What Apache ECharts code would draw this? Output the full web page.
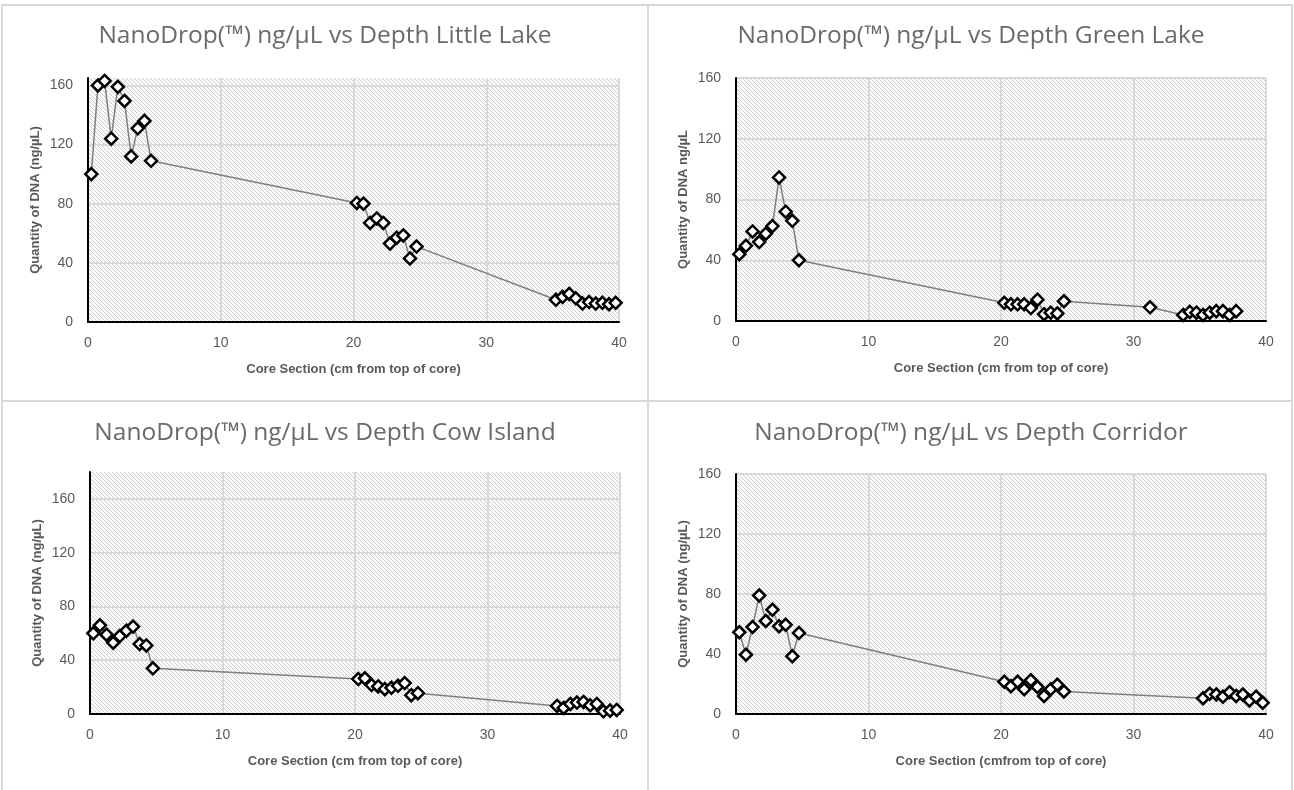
<!DOCTYPE html>
<html>
<head>
<meta charset="utf-8">
<script src="https://cdn.jsdelivr.net/npm/echarts@6/dist/echarts.min.js"></script>
<style>
  html, body { margin: 0; padding: 0; background: #ffffff; }
  #chart { width: 1294px; height: 790px; }
</style>
</head>
<body>
<div id="chart"></div>
<script>
// Core depth (cm from top of core) and DNA quantity (ng/µL) per site
const littleLakeDepth = [0.25, 0.75, 1.25, 1.75, 2.25, 2.75, 3.25, 3.75, 4.25, 4.75,
  20.25, 20.75, 21.25, 21.75, 22.25, 22.75, 23.25, 23.75, 24.25, 24.75,
  35.25, 35.75, 36.25, 36.75, 37.25, 37.75, 38.25, 38.75, 39.25, 39.75];
const littleLakeDNA = [100, 160, 163, 124, 159, 149.5, 112, 131, 136, 109,
  80.5, 80, 67, 70, 67, 53, 57, 58.5, 43, 51,
  15, 17, 19, 16, 12.5, 13.5, 12.5, 13, 12, 13];

const greenLakeDepth = [0.25, 0.75, 1.25, 1.75, 2.25, 2.75, 3.25, 3.75, 4.25, 4.75,
  20.25, 20.75, 21.25, 21.75, 22.25, 22.75, 23.25, 23.75, 24.25, 24.75,
  31.25,
  33.75, 34.25, 34.75, 35.25, 35.75, 36.25, 36.75, 37.25, 37.75];
const greenLakeDNA = [44, 49.5, 59, 52, 57.5, 62.5, 94.5, 72, 66, 40,
  12, 11, 11, 11, 8.5, 14, 4.5, 5.5, 5, 13,
  9,
  4, 6, 5.5, 4, 5.5, 6.5, 6.5, 4, 6.5];

const cowIslandDepth = [0.25, 0.75, 1.25, 1.75, 2.25, 2.75, 3.25, 3.75, 4.25, 4.75,
  20.25, 20.75, 21.25, 21.75, 22.25, 22.75, 23.25, 23.75, 24.25, 24.75,
  35.25, 35.75, 36.25, 36.75, 37.25, 37.75, 38.25, 38.75, 39.25, 39.75];
const cowIslandDNA = [60, 66, 59, 53, 58, 62, 65, 52, 51, 34,
  26, 26.5, 21.5, 20.5, 18.5, 19.5, 21, 23, 14, 15.5,
  6, 4.5, 7.5, 8.5, 9, 6.5, 7.5, 2, 2.5, 3];

const corridorDepth = [0.25, 0.75, 1.25, 1.75, 2.25, 2.75, 3.25, 3.75, 4.25, 4.75,
  20.25, 20.75, 21.25, 21.75, 22.25, 22.75, 23.25, 23.75, 24.25, 24.75,
  35.25, 35.75, 36.25, 36.75, 37.25, 37.75, 38.25, 38.75, 39.25, 39.75];
const corridorDNA = [54.5, 39.5, 58, 79, 62, 69.5, 58.5, 59.5, 38.5, 54,
  21.5, 18.5, 21.5, 16.5, 22.5, 18, 12, 16.5, 19.5, 15,
  10.5, 13.5, 13, 11.5, 14.5, 12, 13, 9, 11.5, 7.5];

const chartTitles = [
  'NanoDrop(™) ng/µL vs Depth Little Lake',
  'NanoDrop(™) ng/µL vs Depth Green Lake',
  'NanoDrop(™) ng/µL vs Depth Cow Island',
  'NanoDrop(™) ng/µL vs Depth Corridor'
];
const xAxisNames = [
  'Core Section (cm from top of core)',
  'Core Section (cm from top of core)',
  'Core Section (cm from top of core)',
  'Core Section (cmfrom top of core)'
];
const yAxisNames = [
  'Quantity of DNA (ng/µL)',
  'Quantity of DNA ng/µL',
  'Quantity of DNA (ng/µL)',
  'Quantity of DNA (ng/µL)'
];
const yAxisMax = [165, 160, 180, 160];

const panelData = [
  [littleLakeDepth, littleLakeDNA],
  [greenLakeDepth, greenLakeDNA],
  [cowIslandDepth, cowIslandDNA],
  [corridorDepth, corridorDNA]
];

// Diagonal hatch tile for the plot-area fill
function makeHatch() {
  const n = 4;
  const c = document.createElement('canvas');
  c.width = n; c.height = n;
  const ctx = c.getContext('2d');
  const img = ctx.createImageData(n, n);
  for (let y = 0; y < n; y++) {
    for (let x = 0; x < n; x++) {
      const on = ((x - y) % n + n) % n === 0;
      const v = on ? 0xcf : 0xfb;
      const i = (y * n + x) * 4;
      img.data[i] = v; img.data[i + 1] = v; img.data[i + 2] = v; img.data[i + 3] = 255;
    }
  }
  ctx.putImageData(img, 0, 0);
  return c;
}
const hatch = makeHatch();

const textGray = '#595959';
const gridLineColor = '#d9d9d9';
const fontFamily = 'Liberation Sans';

const grids = [
  { left: 88, top: 78, width: 531, height: 244 },
  { left: 736, top: 78, width: 530, height: 243 },
  { left: 90, top: 472, width: 530, height: 242 },
  { left: 736, top: 474, width: 530, height: 240 }
];
const titlePos = [
  { x: 325, y: 24 },
  { x: 971, y: 24 },
  { x: 325, y: 421 },
  { x: 971, y: 421 }
];

const option = {
  animation: false,
  backgroundColor: '#ffffff',
  title: chartTitles.map((t, i) => ({
    text: t,
    left: titlePos[i].x,
    top: titlePos[i].y,
    textAlign: 'center',
    padding: 0,
    textStyle: {
      fontFamily: 'Open Sans',
      fontSize: 24.5,
      fontWeight: 'normal',
      color: '#6a6a6a'
    }
  })),
  graphic: [
    { type: 'rect', shape: { x: 2, y: 5, width: 646, height: 396 }, style: { fill: 'none', stroke: gridLineColor, lineWidth: 2 }, z: -1 },
    { type: 'rect', shape: { x: 648, y: 5, width: 644, height: 396 }, style: { fill: 'none', stroke: gridLineColor, lineWidth: 2 }, z: -1 },
    { type: 'rect', shape: { x: 2, y: 401, width: 646, height: 400 }, style: { fill: 'none', stroke: gridLineColor, lineWidth: 2 }, z: -1 },
    { type: 'rect', shape: { x: 648, y: 401, width: 644, height: 400 }, style: { fill: 'none', stroke: gridLineColor, lineWidth: 2 }, z: -1 }
  ],
  grid: grids.map(g => Object.assign({
    show: true,
    borderWidth: 0,
    backgroundColor: { image: hatch, repeat: 'repeat' }
  }, g)),
  xAxis: grids.map((g, i) => ({
    type: 'value',
    gridIndex: i,
    min: 0,
    max: 40,
    interval: 10,
    name: xAxisNames[i],
    nameLocation: 'middle',
    nameGap: 41,
    nameTextStyle: { fontFamily: fontFamily, fontSize: 13, fontWeight: 'bold', color: textGray },
    axisLine: { show: true, onZero: false, lineStyle: { color: '#000000', width: 2 } },
    axisTick: { show: false },
    axisLabel: { fontFamily: fontFamily, fontSize: 14, color: textGray, margin: 14 },
    splitLine: { show: true, lineStyle: { color: gridLineColor, width: 2 } }
  })),
  yAxis: grids.map((g, i) => ({
    type: 'value',
    gridIndex: i,
    min: 0,
    max: yAxisMax[i],
    interval: 40,
    name: yAxisNames[i],
    nameLocation: 'middle',
    nameGap: 46,
    nameTextStyle: { fontFamily: fontFamily, fontSize: 13, fontWeight: 'bold', color: textGray },
    axisLine: { show: true, onZero: false, lineStyle: { color: '#000000', width: 2 } },
    axisTick: { show: false },
    axisLabel: {
      fontFamily: fontFamily, fontSize: 14, color: textGray, margin: 15,
      showMaxLabel: yAxisMax[i] % 40 === 0
    },
    splitLine: {
      show: true,
      showMinLine: false,
      showMaxLine: yAxisMax[i] % 40 === 0,
      lineStyle: { color: gridLineColor, width: 2 }
    }
  })),
  series: panelData.map((d, i) => ({
    type: 'line',
    xAxisIndex: i,
    yAxisIndex: i,
    data: d[0].map((x, k) => [x, d[1][k]]),
    symbol: 'diamond',
    symbolSize: 12,
    showAllSymbol: true,
    lineStyle: { color: '#7f7f7f', width: 1.5 },
    itemStyle: { color: '#ffffff', borderColor: '#000000', borderWidth: 2.5 },
    z: 3
  }))
};

const chart = echarts.init(document.getElementById('chart'), null, { renderer: 'canvas' });
chart.setOption(option);
</script>
</body>
</html>
